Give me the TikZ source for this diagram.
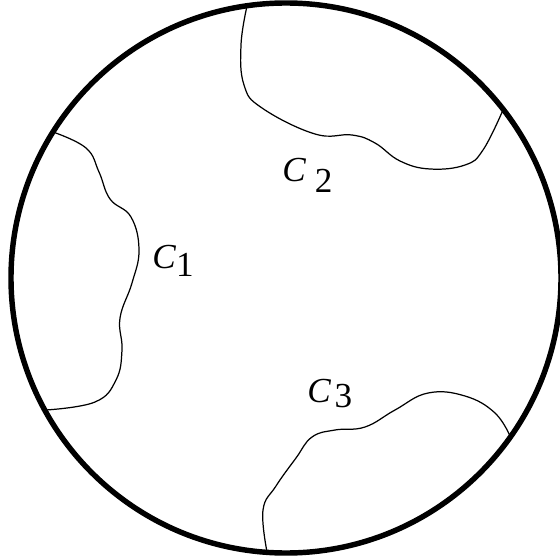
\documentclass[tikz,border=0pt]{standalone}
\usepackage{fontspec}
\setmainfont{Liberation Serif}
\usetikzlibrary{positioning}

\newcommand{\curvelabel}[3]{\textit{C}\hspace{#2}\raisebox{-#3}{#1}}

\begin{document}
\begin{tikzpicture}[x=0.02cm, y=-0.02cm,
	rim/.style={line width=3.1pt},
	boundary/.style={line width=0.7pt, line join=round},
	lbl/.style={anchor=base west, inner sep=0pt, font=\fontsize{20pt}{22pt}\selectfont}]
	\useasboundingbox (0,0) rectangle (560,560);
	
	% outer disc
	\draw[rim] (286,278) circle (275);
	
	% the three arcs, each with its end points on the rim
	\draw[boundary] plot[smooth, tension=0.7] coordinates {(53,132) (86,148) (99,172) (110,199) (131,217) (139,250) (132,283) (120,318) (122,350) (116,380) (95,402) (46,410)};
	\draw[boundary] plot[smooth, tension=0.7] coordinates {(247,6) (241,45) (244,85) (262,108) (315,134) (352,135) (375,143) (400,161) (430,169) (465,165) (483,150) (503,110)};
	\draw[boundary] plot[smooth, tension=0.7] coordinates {(267,552) (263,510) (276,486) (296,458) (312,437) (335,430) (365,427) (395,410) (428,393) (465,396) (495,413) (511,438)};
	
	% labels
	\node[lbl] (cone) at (152,268) {\curvelabel{1}{0pt}{5.1pt}};
	\node[lbl] (ctwo) at (282,182) {\curvelabel{2}{5pt}{5.7pt}};
	\node[lbl] (cthree) at (307,402) {\curvelabel{3}{2pt}{3.4pt}};
\end{tikzpicture}
\end{document}
